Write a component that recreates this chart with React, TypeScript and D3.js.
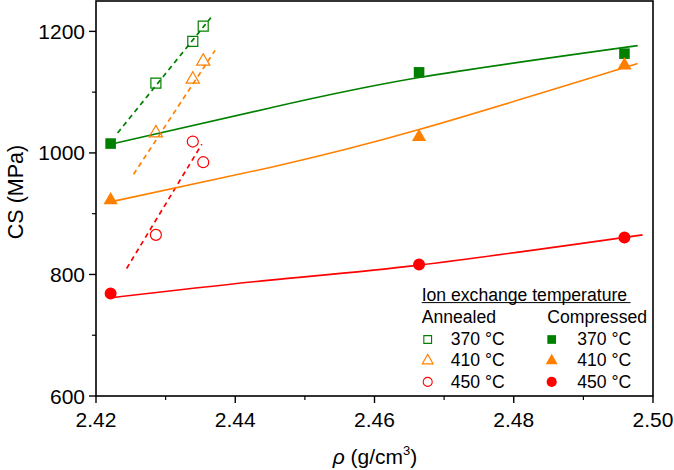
import React from "react";
import * as d3 from "d3";

// ---- data ----
const compressedX = [2.4221, 2.4664, 2.4959];
const comp370 = [1015.4, 1132.6, 1163.4];
const comp410 = [922.2, 1026.3, 1144.1];
const comp450 = [768.8, 816.5, 860.9];

const annealedX = [2.4286, 2.4339, 2.4354];
const ann370 = [1115, 1183.6, 1208.8];
const ann410 = [1032.8, 1121, 1150.7];
const ann450 = [865.2, 1018.7, 984.7];

// fitted curves (compressed, solid)
const fit370X = [2.4221, 2.445, 2.4664, 2.4978];
const fit370Y = [1014.3, 1074, 1124, 1176.5];
const fit410X = [2.4221, 2.445, 2.4664, 2.4978];
const fit410Y = [919.4, 976, 1038.4, 1147];
const fit450X = [2.4221, 2.445, 2.4664, 2.4985];
const fit450Y = [761.6, 790.7, 815.4, 865.2];

// fitted lines (annealed, dashed)
const dash370X = [2.4231, 2.4365];
const dash370Y = [1032.8, 1222.6];
const dash410X = [2.4254, 2.4371];
const dash410Y = [965, 1168.8];
const dash450X = [2.4244, 2.4352];
const dash450Y = [809.9, 1014.3];

const xTicks = [2.42, 2.44, 2.46, 2.48, 2.5];
const xMinor = [2.43, 2.45, 2.47, 2.49];
const yTicks = [600, 800, 1000, 1200];
const yMinor = [700, 900, 1100];

const temps = ["370 °C", "410 °C", "450 °C"];
const GREEN = "#008000";
const ORANGE = "#FF8000";
const RED = "#FF0000";
const colors = [GREEN, ORANGE, RED];

const FONT = "'Liberation Sans', Arial, sans-serif";

export default function App() {
  const left = 96, right = 653, top = 1, bottom = 396;
  const x = d3.scaleLinear().domain([2.42, 2.5]).range([left, right]);
  const y = d3.scaleLinear().domain([600, 1250]).range([bottom, top]);

  const zip = (xs: number[], ys: number[]) => xs.map((v, i) => [v, ys[i]] as [number, number]);
  const curve = d3
    .line<[number, number]>()
    .x((d) => x(d[0]))
    .y((d) => y(d[1]))
    .curve(d3.curveNatural);
  const straight = d3
    .line<[number, number]>()
    .x((d) => x(d[0]))
    .y((d) => y(d[1]));

  const sym = (type: d3.SymbolType, size: number) => d3.symbol().type(type).size(size)() || "";

  const solidFits = [
    zip(fit370X, fit370Y),
    zip(fit410X, fit410Y),
    zip(fit450X, fit450Y),
  ];
  const dashFits = [
    zip(dash370X, dash370Y),
    zip(dash410X, dash410Y),
    zip(dash450X, dash450Y),
  ];
  const compSeries = [comp370, comp410, comp450];
  const annSeries = [ann370, ann410, ann450];
  const types = [d3.symbolSquare, d3.symbolTriangle, d3.symbolCircle];
  const filledSizes = [112, 88, 113];
  const openSizes = [100, 76, 95];
  const legOpenSizes = [60, 52, 64];
  const legFilledSizes = [76, 62, 80];

  const legRows = [339.5, 360.7, 381.9];
  const legTextRows = [345.2, 366.4, 387.6];

  return (
    <svg
      width={674}
      height={470}
      style={{ position: "absolute", left: 0, top: 0, background: "#fff" }}
      fontFamily={FONT}
    >
      <rect x={0} y={0} width={674} height={470} fill="#fff" />

      {/* dashed fits */}
      {dashFits.map((d, i) => (
        <path
          key={"df" + i}
          d={straight(d) || ""}
          fill="none"
          stroke={colors[i]}
          strokeWidth={1.7}
          strokeDasharray="5,4"
        />
      ))}
      {/* solid fits */}
      {solidFits.map((d, i) => (
        <path key={"sf" + i} d={curve(d) || ""} fill="none" stroke={colors[i]} strokeWidth={1.6} />
      ))}

      {/* annealed open markers */}
      {annSeries.map((s, i) =>
        s.map((v, j) => (
          <path
            key={"a" + i + "-" + j}
            d={sym(types[i], openSizes[i])}
            transform={`translate(${x(annealedX[j])},${y(v)})`}
            fill="none"
            stroke={colors[i]}
            strokeWidth={1.2}
          />
        ))
      )}
      {/* compressed filled markers */}
      {compSeries.map((s, i) =>
        s.map((v, j) => (
          <path
            key={"c" + i + "-" + j}
            d={sym(types[i], filledSizes[i])}
            transform={`translate(${x(compressedX[j])},${y(v)})`}
            fill={colors[i]}
            stroke="none"
          />
        ))
      )}

      {/* frame */}
      <rect
        x={left}
        y={top}
        width={right - left}
        height={bottom - top}
        fill="none"
        stroke="#000"
        strokeWidth={1.6}
      />

      {/* x ticks */}
      {xTicks.map((t) => (
        <g key={"xt" + t}>
          <line x1={x(t)} x2={x(t)} y1={bottom} y2={bottom + 7} stroke="#000" strokeWidth={1.4} />
          <text x={x(t)} y={426.7} textAnchor="middle" fontSize={21}>
            {d3.format(".2f")(t)}
          </text>
        </g>
      ))}
      {xMinor.map((t) => (
        <line key={"xm" + t} x1={x(t)} x2={x(t)} y1={bottom} y2={bottom + 4} stroke="#000" strokeWidth={1.2} />
      ))}

      {/* y ticks */}
      {yTicks.map((t) => (
        <g key={"yt" + t}>
          <line x1={left - 7} x2={left} y1={y(t)} y2={y(t)} stroke="#000" strokeWidth={1.4} />
          <text x={85} y={y(t)} dy="0.36em" textAnchor="end" fontSize={21}>
            {t}
          </text>
        </g>
      ))}
      {yMinor.map((t) => (
        <line key={"ym" + t} x1={left - 4} x2={left} y1={y(t)} y2={y(t)} stroke="#000" strokeWidth={1.2} />
      ))}

      {/* axis titles */}
      <text transform="translate(23,192) rotate(-90)" textAnchor="middle" fontSize={21.5}>
        CS (MPa)
      </text>
      <text x={375} y={464} textAnchor="middle" fontSize={21}>
        <tspan fontStyle="italic">ρ</tspan>
        <tspan> (g/cm</tspan>
        <tspan fontSize={13} dy={-9}>
          3
        </tspan>
        <tspan dy={9}>)</tspan>
      </text>

      {/* legend */}
      <text x={421.7} y={300.5} fontSize={17.6}>
        Ion exchange temperature
      </text>
      <line x1={421.7} x2={630.5} y1={302.6} y2={302.6} stroke="#000" strokeWidth={1} />
      <text x={421.7} y={322.7} fontSize={17.6}>
        Annealed
      </text>
      <text x={547.3} y={322.7} fontSize={17.6}>
        Compressed
      </text>
      {temps.map((t, i) => (
        <g key={"leg" + i}>
          <path
            d={sym(types[i], legOpenSizes[i])}
            transform={`translate(427.7,${legRows[i]})`}
            fill="none"
            stroke={colors[i]}
            strokeWidth={1.1}
          />
          <text x={450.7} y={legTextRows[i]} fontSize={17.6}>
            {t}
          </text>
          <path
            d={sym(types[i], legFilledSizes[i])}
            transform={`translate(551.7,${legRows[i]})`}
            fill={colors[i]}
          />
          <text x={577.3} y={legTextRows[i]} fontSize={17.6}>
            {t}
          </text>
        </g>
      ))}
    </svg>
  );
}
